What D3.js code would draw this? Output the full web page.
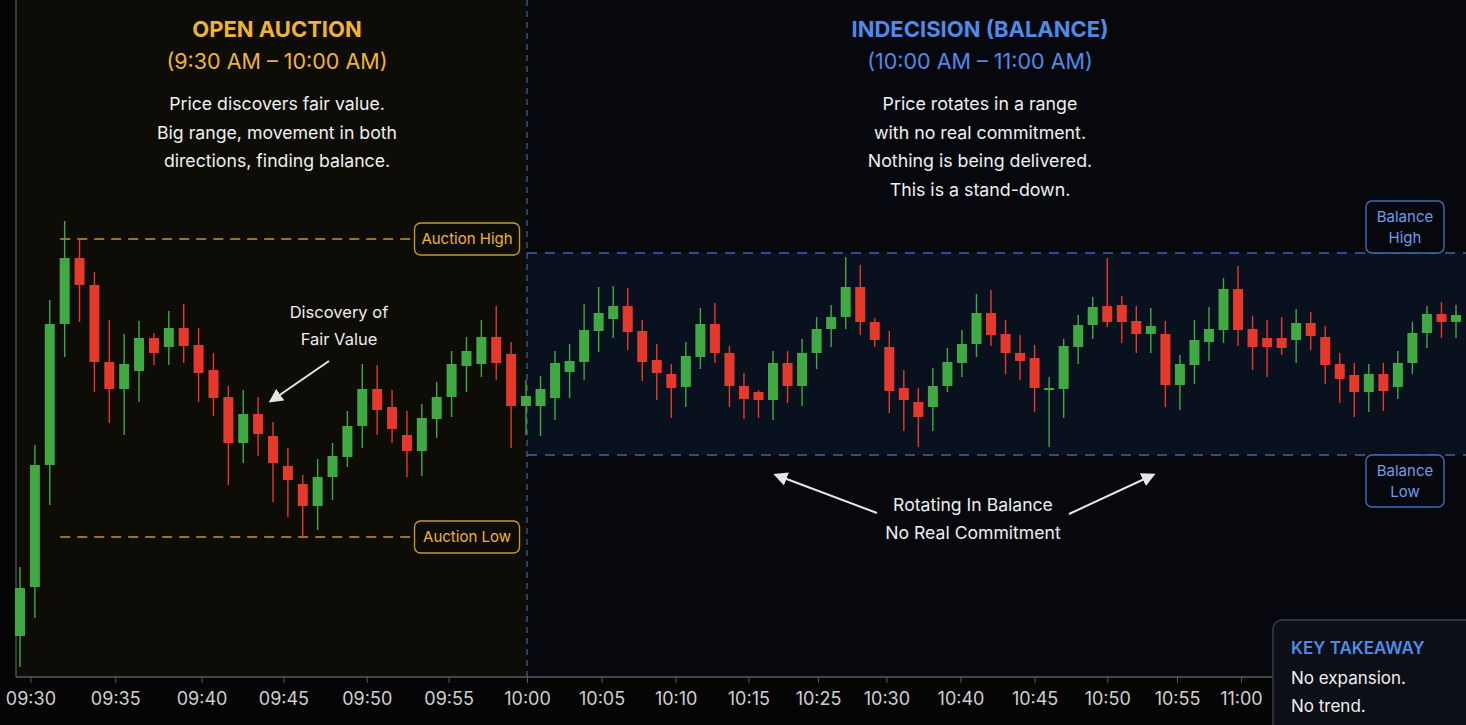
<!DOCTYPE html>
<html>
<head>
<meta charset="utf-8">
<script src="https://cdn.jsdelivr.net/npm/d3@7"></script>
<style>
  body { margin: 0; background: #060606; overflow: hidden; }
  svg { display: block; font-family: Inter, "DejaVu Sans", sans-serif; }
</style>
</head>
<body>
<svg id="chart"></svg>
<script>
// one candle per slot (arbitrary price points)
var opens  = [64,113,235,376,442,415,338,311,329,362,353,372,355,330,303,257,286,264,234,216,
              194,223,243,274,311,293,265,249,281,303,334,336,363,346,294,294,302,328,338,369,
              381,394,369,340,326,313,343,376,347,314,308,300,337,314,347,371,383,413,378,353,
              312,298,293,314,337,356,387,366,347,342,311,311,353,375,394,395,379,366,366,315,
              335,358,370,411,371,362,362,360,377,363,336,325,308,326,313,337,367,386,378];
var closes = [112,235,376,442,415,338,311,336,362,347,372,354,327,302,257,286,266,237,220,194,
              223,244,274,311,290,271,249,282,303,336,349,363,337,294,304,311,337,339,370,387,
              394,368,338,327,312,344,376,347,314,301,300,337,314,347,371,383,413,378,360,309,
              300,283,314,338,356,387,365,347,339,312,312,354,375,393,378,378,366,374,315,336,
              360,371,411,370,353,353,352,377,364,335,321,308,326,309,337,367,386,378,385];
var highs  = [133,255,400,479,462,428,380,366,379,367,389,396,372,347,314,310,303,278,252,225,
              241,257,289,336,335,310,289,296,318,349,363,380,394,358,320,324,349,356,396,413,
              414,412,380,356,336,358,392,397,354,327,310,349,349,361,383,395,443,435,382,369,
              330,312,332,352,370,406,410,380,365,355,323,361,385,403,442,404,394,392,379,345,
              380,393,422,434,384,380,383,391,388,374,347,337,336,337,349,378,394,398,395];
var lows   = [33,82,195,343,378,308,277,265,298,335,335,337,298,284,215,237,244,198,183,163,
              170,200,233,252,265,257,223,224,262,283,308,323,320,252,265,264,280,302,320,348,
              362,350,319,300,282,293,331,337,293,281,282,280,297,294,331,353,371,365,353,287,
              269,253,269,308,323,343,354,326,320,288,253,282,336,361,373,357,347,347,293,290,
              316,339,357,354,330,323,345,337,350,316,297,283,288,289,301,326,352,362,362];

var tickIdx    = [0.7, 6.4, 12.2, 17.7, 23.3, 28.8, 34.07, 39.2, 44.3, 49.3, 54.1, 58.8, 63.9, 69, 74, 78.8, 83.2];
var tickLabels = ["09:30","09:35","09:40","09:45","09:50","09:55","10:00","10:05","10:10",
                  "10:15","10:25","10:30","10:40","10:45","10:50","10:55","11:00"];

var auctionHigh = 461, auctionLow = 163;
var balanceHigh = 447, balanceLow = 245;

var openTitle   = ["OPEN AUCTION", "(9:30 AM \u2013 10:00 AM)"];
var openText    = ["Price discovers fair value.", "Big range, movement in both", "directions, finding balance."];
var balTitle    = ["INDECISION (BALANCE)", "(10:00 AM \u2013 11:00 AM)"];
var balText     = ["Price rotates in a range", "with no real commitment.", "Nothing is being delivered.", "This is a stand-down."];
var takeaway    = ["No expansion.", "No trend."];

var width = 1466, height = 725, axisY = 677;
var gold = "#f0b432", blue = "#4f8be6", up = "#41a944", down = "#e5392b";

var candles = opens.map(function(o, i){
  return {i: i, open: o, close: closes[i], high: highs[i], low: lows[i]};
});

var x = d3.scaleLinear().domain([0, 34, 98]).range([20, 526, 1456]);
var y = d3.scaleLinear().domain([0, 700]).range([700, 0]);
var splitX = x(tickIdx[6]);

var svg = d3.select("#chart").attr("width", width).attr("height", height);

svg.append("defs").append("marker")
    .attr("id", "arrow")
    .attr("viewBox", "0 0 10 10")
    .attr("refX", 8).attr("refY", 5)
    .attr("markerWidth", 14).attr("markerHeight", 14)
    .attr("markerUnits", "userSpaceOnUse")
    .attr("orient", "auto")
  .append("path")
    .attr("d", "M0,0 L10,5 L0,10 z")
    .attr("fill", "#e6e6e6");

// backgrounds
svg.append("rect").attr("width", width).attr("height", height).attr("fill", "#050505");
svg.append("rect").attr("x", 16).attr("y", 0).attr("width", splitX - 16).attr("height", axisY)
    .attr("fill", "#0d0c06");
svg.append("rect").attr("x", splitX).attr("y", 0).attr("width", width - splitX).attr("height", axisY)
    .attr("fill", "#06080e");
svg.append("rect").attr("x", splitX).attr("y", y(balanceHigh))
    .attr("width", width - splitX).attr("height", y(balanceLow) - y(balanceHigh))
    .attr("fill", "#0a111e");

svg.append("line").attr("x1", 16).attr("x2", 16).attr("y1", 0).attr("y2", axisY)
    .attr("stroke", "#4a4a4a").attr("stroke-width", 1.5);
svg.append("line").attr("x1", splitX).attr("x2", splitX).attr("y1", 0).attr("y2", axisY)
    .attr("stroke", "#3a5ea0").attr("stroke-width", 1.3).attr("stroke-dasharray", "6,5");

// level lines
var levels = svg.append("g").attr("class", "levels");
[auctionHigh, auctionLow].forEach(function(v){
  levels.append("line")
    .attr("x1", x(2.7)).attr("x2", splitX - 10)
    .attr("y1", y(v)).attr("y2", y(v))
    .attr("stroke", "#c4963a").attr("stroke-width", 1.6).attr("stroke-dasharray", "10,7");
});
[balanceHigh, balanceLow].forEach(function(v){
  levels.append("line")
    .attr("x1", splitX).attr("x2", width)
    .attr("y1", y(v)).attr("y2", y(v))
    .attr("stroke", "#3f66ad").attr("stroke-width", 1.6).attr("stroke-dasharray", "10,8");
});

// candles
var cg = svg.append("g").attr("class", "candles");
var bw = 10;
cg.selectAll("line.wick")
    .data(candles)
  .enter().append("line")
    .attr("class", "wick")
    .attr("x1", function(d){ return x(d.i); })
    .attr("x2", function(d){ return x(d.i); })
    .attr("y1", function(d){ return y(d.high); })
    .attr("y2", function(d){ return y(d.low); })
    .attr("stroke", function(d){ return d.close >= d.open ? up : down; })
    .attr("stroke-width", 1.4);
cg.selectAll("rect.body")
    .data(candles)
  .enter().append("rect")
    .attr("class", "body")
    .attr("x", function(d){ return x(d.i) - bw / 2; })
    .attr("width", bw)
    .attr("y", function(d){ return y(Math.max(d.open, d.close)); })
    .attr("height", function(d){ return Math.max(2, Math.abs(y(d.open) - y(d.close))); })
    .attr("fill", function(d){ return d.close >= d.open ? up : down; });

// x axis
var xAxis = d3.axisBottom(x)
  .tickValues(tickIdx)
  .tickFormat(function(d, i){ return tickLabels[i]; })
  .tickSize(6)
  .tickPadding(9);

var ax = svg.append("g")
  .attr("class", "axis x")
  .attr("transform", "translate(0," + axisY + ")")
  .call(xAxis);
ax.select(".domain").remove();
ax.selectAll(".tick line").attr("stroke", "#5a5a5a");
ax.selectAll(".tick text")
  .attr("fill", "#cfcfcf")
  .style("font-size", "18px")
  .style("font-family", "Inter, 'DejaVu Sans', sans-serif");
svg.append("line").attr("x1", 16).attr("x2", 1273).attr("y1", axisY).attr("y2", axisY)
    .attr("stroke", "#5a5a5a").attr("stroke-width", 1.5);

// level labels
function labelBox(cx, cy, w, h, lines, stroke, color, fill){
  var g = svg.append("g");
  g.append("rect")
    .attr("x", cx - w / 2).attr("y", cy - h / 2).attr("width", w).attr("height", h)
    .attr("rx", 6).attr("fill", fill).attr("stroke", stroke).attr("stroke-width", 1.4);
  g.selectAll("text").data(lines).enter().append("text")
    .attr("x", cx)
    .attr("y", function(d, i){ return cy + 5 + (i - (lines.length - 1) / 2) * 21; })
    .attr("text-anchor", "middle")
    .attr("fill", color)
    .style("font-size", "15px")
    .text(function(d){ return d; });
}
labelBox(splitX - 60, y(auctionHigh), 105, 32, ["Auction High"], "#c4963a", gold, "#0d0c06");
labelBox(splitX - 60, y(auctionLow), 105, 32, ["Auction Low"], "#c4963a", gold, "#0d0c06");
labelBox(1405, y(balanceHigh) - 26, 78, 52, ["Balance", "High"], "#3f6cb8", "#6d9de8", "#06080e");
labelBox(1405, y(balanceLow) + 26, 78, 52, ["Balance", "Low"], "#3f6cb8", "#6d9de8", "#06080e");

// headers
function textBlock(cx, y0, lines, step, size, color, weight){
  svg.append("g").selectAll("text").data(lines).enter().append("text")
    .attr("x", cx)
    .attr("y", function(d, i){ return y0 + i * step; })
    .attr("text-anchor", "middle")
    .attr("fill", color)
    .style("font-size", size + "px")
    .style("font-weight", weight || 400)
    .text(function(d){ return d; });
}
textBlock(277, 37, [openTitle[0]], 0, 22, gold, 700);
textBlock(277, 69, [openTitle[1]], 0, 21.5, gold, 400);
textBlock(277, 110, openText, 28.5, 17.7, "#f0f0f0");

textBlock(980, 37, [balTitle[0]], 0, 22, blue, 700);
textBlock(980, 69, [balTitle[1]], 0, 21.5, blue, 400);
textBlock(980, 110, balText, 28.5, 17.8, "#f0f0f0");

// annotations
textBlock(339, 318, ["Discovery of", "Fair Value"], 27, 16.5, "#eeeeee");
textBlock(973, 511, ["Rotating In Balance", "No Real Commitment"], 28, 17.6, "#eeeeee");

var arrows = [[329, 361, 271, 401], [877, 513, 776, 475], [1069, 514, 1153, 475]];
svg.append("g").selectAll("line").data(arrows).enter().append("line")
  .attr("x1", function(d){ return d[0]; }).attr("y1", function(d){ return d[1]; })
  .attr("x2", function(d){ return d[2]; }).attr("y2", function(d){ return d[3]; })
  .attr("stroke", "#e6e6e6").attr("stroke-width", 2)
  .attr("marker-end", "url(#arrow)");

// key takeaway box
var kb = svg.append("g");
kb.append("rect").attr("x", 1273).attr("y", 620).attr("width", 240).attr("height", 160)
  .attr("rx", 9).attr("fill", "#0c0f16").attr("stroke", "#3b4049").attr("stroke-width", 1.4);
kb.append("text").attr("x", 1291).attr("y", 654).attr("fill", blue)
  .style("font-size", "17px").style("font-weight", 600).text("KEY TAKEAWAY");
kb.selectAll("text.k").data(takeaway).enter().append("text")
  .attr("class", "k")
  .attr("x", 1291).attr("y", function(d, i){ return 684 + i * 28; })
  .attr("fill", "#f0f0f0").style("font-size", "17px")
  .text(function(d){ return d; });
</script>
</body>
</html>
